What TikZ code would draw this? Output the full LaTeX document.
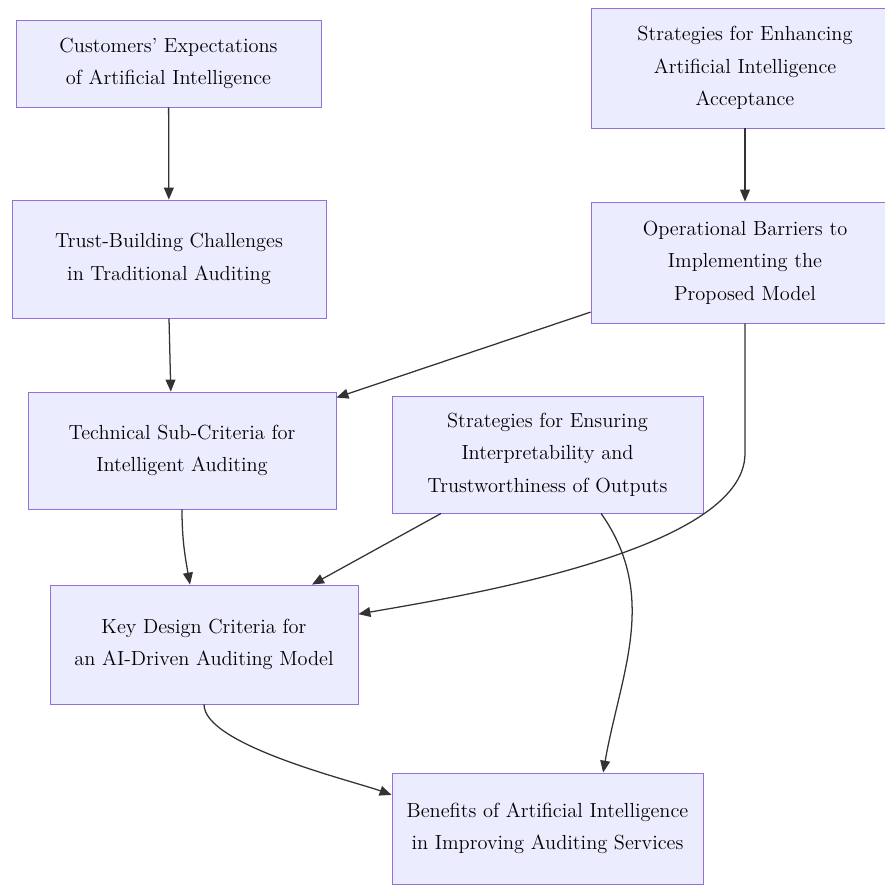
\documentclass[tikz,border=0pt]{standalone}
\usepackage{tikz}
\usetikzlibrary{arrows.meta}
\definecolor{boxfill}{HTML}{ECECFF}
\definecolor{boxline}{HTML}{9370DB}
\definecolor{arrline}{HTML}{333333}
\tikzset{
  box/.style={draw=boxline, fill=boxfill, line width=0.6pt, align=center,
    inner sep=0pt, font=\fontsize{14.5}{23}\selectfont},
  arr/.style={draw=arrline, line width=0.9pt, -{Triangle[length=8.5pt,width=7pt]}}
}
\begin{document}
\begin{tikzpicture}[x=0.025cm,y=-0.025cm]
\useasboundingbox[fill=white] (0,0) rectangle (885,884);
\node[box, minimum width=7.625cm, minimum height=2.175cm] (cust) at (168.5,63.5)
  {Customers' Expectations\\of Artificial Intelligence};
\node[box, minimum width=7.7cm, minimum height=3cm] (enh) at (745,68)
  {Strategies for Enhancing\\Artificial Intelligence\\Acceptance};
\node[box, minimum width=7.85cm, minimum height=2.95cm] (trust) at (169,259)
  {Trust-Building Challenges\\in Traditional Auditing};
\node[box, minimum width=7.7cm, minimum height=3.025cm] (ops) at (745,262.5)
  {Operational Barriers to\\Implementing the\\Proposed Model};
\node[box, minimum width=7.7cm, minimum height=2.925cm] (tech) at (182,450.5)
  {Technical Sub-Criteria for\\Intelligent Auditing};
\node[box, minimum width=7.775cm, minimum height=2.925cm] (ensure) at (547.5,454.5)
  {Strategies for Ensuring\\Interpretability and\\Trustworthiness of Outputs};
\node[box, minimum width=7.7cm, minimum height=2.975cm] (key) at (204,644.5)
  {Key Design Criteria for\\an AI-Driven Auditing Model};
\node[box, minimum width=7.775cm, minimum height=2.775cm] (ben) at (547.5,828.5)
  {Benefits of Artificial Intelligence\\in Improving Auditing Services};
% connectors
\draw[arr] (cust) -- (trust);
\draw[arr] (enh) -- (ops);
\draw[arr] (trust.south) -- ([xshift=-0.28cm]tech.north);
\draw[arr] ([yshift=-1.24cm]ops.west) -- ([yshift=-0.15cm]tech.north east);
\draw[arr] (tech.south) to[out=-90,in=100] ([xshift=-0.35cm]key.north);
\draw[arr] ([xshift=-2.66cm]ensure.south) -- ([xshift=2.7cm]key.north);
\draw[arr] (ops.south) -- ++(0,130) to[out=-90,in=10,looseness=0.6] ([yshift=0.76cm]key.east);
\draw[arr] ([xshift=1.34cm]ensure.south) to[out=-55,in=80] ([xshift=1.39cm]ben.north);
\draw[arr] (key.south) to[out=-90,in=160,looseness=0.5] ([yshift=0.84cm]ben.west);
\end{tikzpicture}
\end{document}
